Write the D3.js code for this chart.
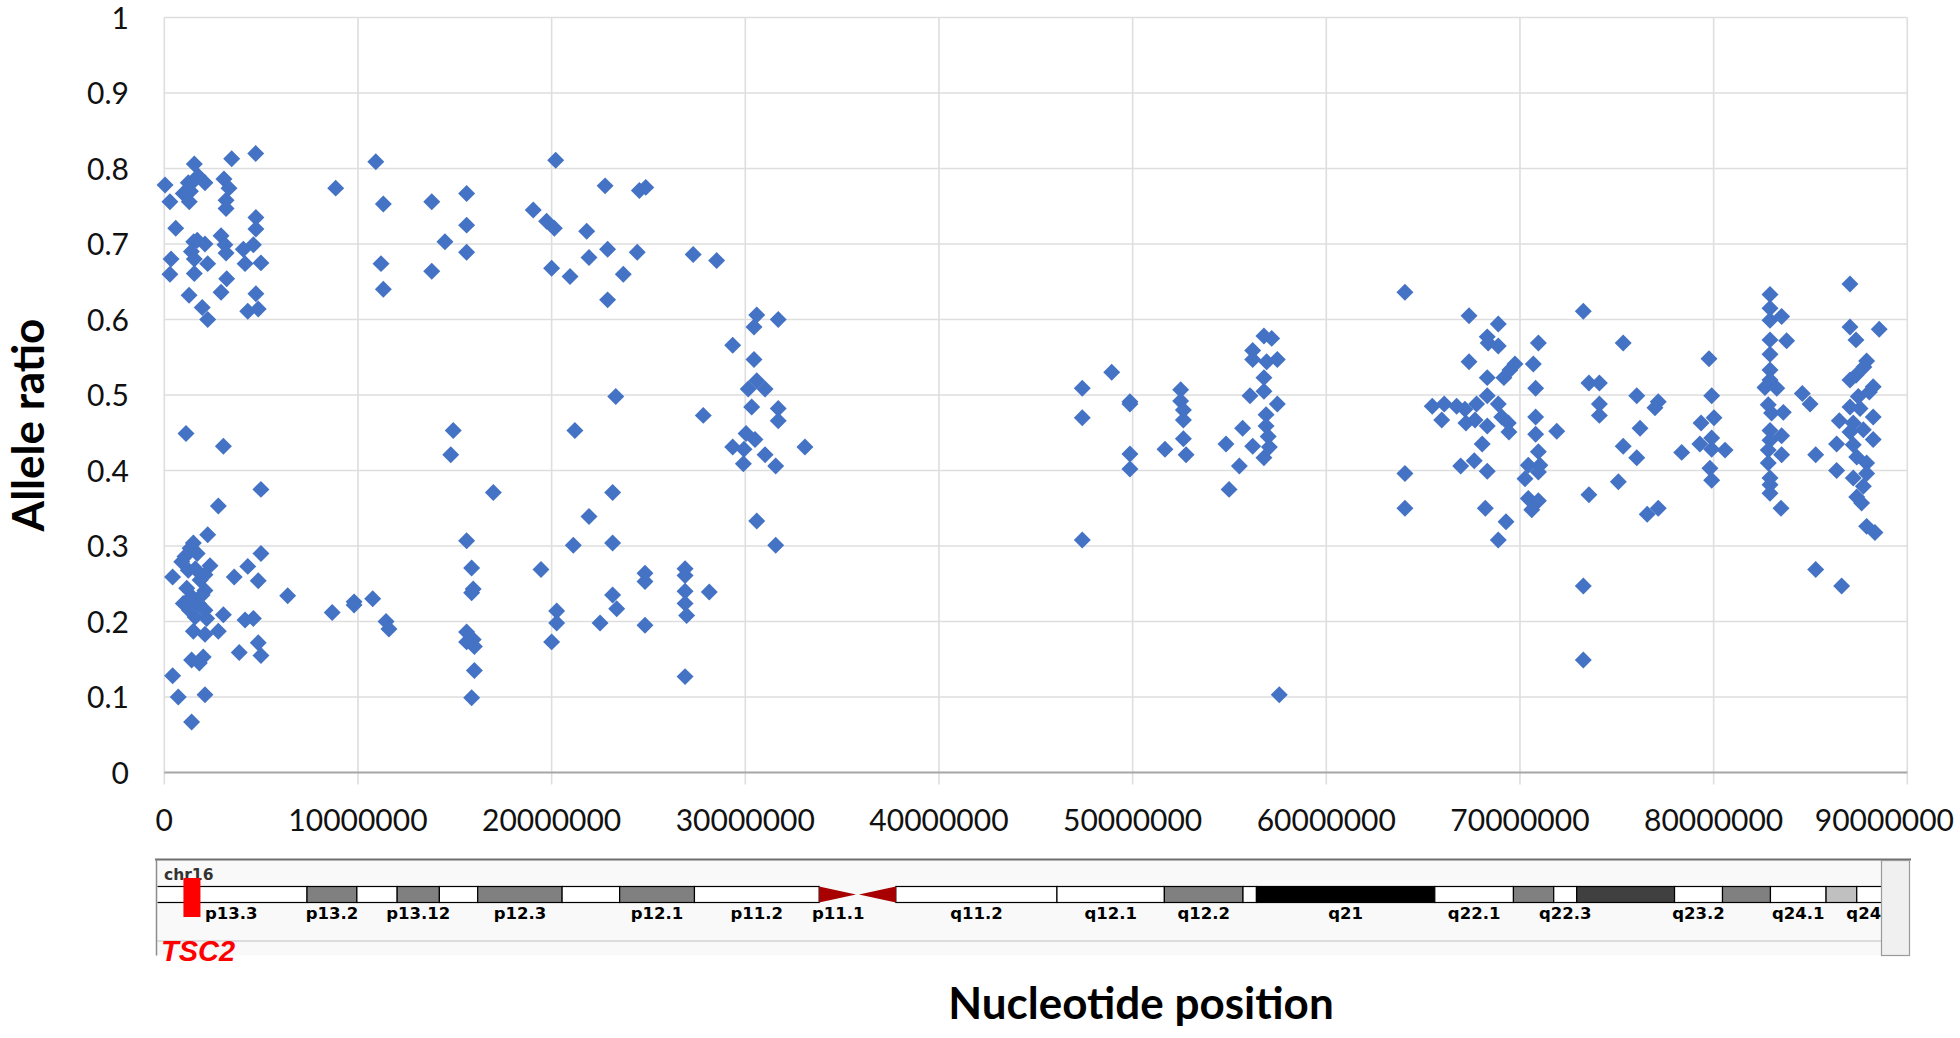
<!DOCTYPE html>
<html>
<head>
<meta charset="utf-8">
<script src="https://cdn.jsdelivr.net/npm/d3@7"></script>
<style>
  html, body { margin: 0; padding: 0; background: #fff; }
  svg { display: block; }
</style>
</head>
<body>
<svg id="chart" width="1960" height="1038"></svg>
<script>
// Heterozygous SNP positions along chr16 (Mb) and their allele ratios
const positionMb = [
  // 0 - 15 Mb, upper band
  1.55,3.48,4.72,10.92,0.04,1.24,1.50,2.10,3.08,3.34,8.85,0.29,0.98,1.29,3.19,3.19,11.31,13.81,4.73,4.73,
  0.59,1.52,2.10,2.93,3.13,4.60,4.08,3.19,14.49,0.35,0.29,1.55,1.55,2.24,4.17,4.99,3.22,11.19,13.81,1.28,
  2.93,4.73,1.96,2.24,4.31,4.85,11.31,1.75,1.35,1.70,1.40,
  // 0 - 15 Mb, lower band
  1.12,3.05,4.99,2.79,2.24,1.50,1.33,1.07,0.90,1.24,2.36,2.10,4.99,4.31,0.43,3.61,4.85,1.16,2.10,6.37,
  0.98,1.41,1.76,2.10,1.59,2.19,3.05,4.17,4.60,8.67,9.80,9.80,10.76,11.45,11.60,1.50,2.10,2.79,4.85,3.87,
  4.99,1.41,2.01,1.81,0.43,0.72,2.10,1.41,1.60,1.85,1.30,1.95,1.70,
  // 14 - 34 Mb
  20.21,15.61,22.76,24.53,24.86,19.05,19.74,20.14,15.61,15.61,21.81,22.89,24.42,21.93,20.00,20.95,23.70,27.31,28.52,22.89,
  30.59,30.45,31.70,29.35,30.45,30.59,30.15,31.02,30.33,31.70,31.70,27.83,23.31,14.92,14.79,21.20,30.04,30.50,29.35,29.93,
  29.90,31.02,31.57,33.08,16.99,23.15,21.93,21.12,23.15,30.59,31.57,15.61,15.87,15.95,15.87,19.45,20.26,20.26,20.00,15.61,
  15.95,15.61,16.01,16.01,15.87,22.50,23.15,23.36,24.82,24.82,24.82,26.89,26.89,26.89,26.89,26.97,28.14,26.89,
  // 47 - 58 Mb
  47.40,47.40,47.40,48.92,49.86,49.86,49.86,49.86,51.67,52.48,52.48,52.62,52.62,52.62,52.76,54.82,55.51,54.98,55.68,56.06,
  56.20,56.20,56.78,57.18,56.92,57.47,56.78,56.78,57.47,56.89,56.89,57.00,56.20,57.06,56.78,57.57,
  // 64 - 77 Mb
  64.06,64.06,64.06,67.37,68.88,68.31,68.36,68.88,67.37,68.31,69.17,69.48,69.74,70.69,70.95,70.81,73.27,75.33,65.47,66.09,
  66.73,67.16,67.76,68.31,68.88,65.96,67.21,67.68,68.31,69.06,69.40,69.43,70.81,70.81,71.90,68.05,67.64,66.94,68.31,70.95,
  70.43,71.03,70.95,70.26,70.43,70.95,70.61,68.21,69.28,68.88,73.27,73.27,73.56,74.10,74.10,74.10,76.03,76.20,75.33,76.03,
  75.08,73.56,
  // 76 - 89 Mb
  77.14,76.97,76.57,77.14,79.76,79.90,79.35,80.02,79.90,79.29,79.90,80.59,78.35,79.81,79.90,82.91,82.91,82.91,83.51,82.91,
  83.77,82.91,82.91,82.91,82.65,83.26,82.82,82.99,83.60,82.91,83.51,82.91,82.82,83.51,82.82,82.91,82.91,82.91,83.48,84.58,
  84.98,85.27,85.27,87.04,87.04,87.35,88.55,87.90,87.76,87.35,87.04,88.24,88.04,87.47,87.04,87.56,88.24,86.49,87.21,87.73,
  88.24,87.04,86.35,87.21,87.39,87.90,86.35,87.21,87.90,87.73,87.39,87.64,87.90,88.33,86.61
];

const alleleRatio = [
  // 0 - 15 Mb, upper band
  0.806,0.813,0.820,0.809,0.778,0.781,0.783,0.781,0.786,0.774,0.774,0.756,0.767,0.756,0.758,0.747,0.753,0.756,0.735,0.720,
  0.721,0.703,0.700,0.711,0.699,0.699,0.693,0.688,0.703,0.680,0.660,0.680,0.661,0.674,0.674,0.675,0.654,0.674,0.664,0.632,
  0.636,0.634,0.616,0.600,0.611,0.614,0.640,0.790,0.770,0.705,0.690,
  // 0 - 15 Mb, lower band
  0.449,0.432,0.375,0.353,0.315,0.304,0.297,0.286,0.279,0.268,0.274,0.262,0.290,0.273,0.259,0.259,0.254,0.244,0.241,0.234,
  0.224,0.233,0.224,0.215,0.206,0.204,0.209,0.202,0.204,0.212,0.226,0.222,0.230,0.200,0.190,0.187,0.183,0.187,0.172,0.159,
  0.155,0.149,0.153,0.145,0.128,0.100,0.103,0.067,0.270,0.255,0.215,0.235,0.290,
  // 14 - 34 Mb
  0.811,0.767,0.777,0.771,0.775,0.745,0.730,0.721,0.725,0.689,0.717,0.693,0.689,0.682,0.668,0.657,0.660,0.686,0.678,0.626,
  0.606,0.590,0.600,0.566,0.547,0.519,0.508,0.508,0.484,0.482,0.466,0.473,0.498,0.453,0.421,0.453,0.449,0.441,0.431,0.428,
  0.409,0.421,0.406,0.431,0.371,0.371,0.339,0.301,0.304,0.333,0.301,0.307,0.271,0.243,0.238,0.269,0.214,0.198,0.173,0.186,
  0.176,0.173,0.167,0.135,0.099,0.198,0.235,0.217,0.264,0.253,0.195,0.270,0.261,0.240,0.224,0.208,0.239,0.127,
  // 47 - 58 Mb
  0.509,0.470,0.308,0.530,0.491,0.488,0.422,0.402,0.428,0.507,0.492,0.480,0.467,0.442,0.421,0.435,0.406,0.375,0.456,0.499,
  0.559,0.547,0.578,0.575,0.544,0.547,0.523,0.505,0.488,0.474,0.459,0.445,0.432,0.431,0.417,0.103,
  // 64 - 77 Mb
  0.636,0.396,0.350,0.605,0.594,0.577,0.569,0.565,0.544,0.523,0.523,0.533,0.541,0.541,0.569,0.509,0.611,0.569,0.485,0.488,
  0.485,0.481,0.488,0.499,0.488,0.467,0.463,0.467,0.459,0.471,0.463,0.451,0.471,0.448,0.452,0.435,0.413,0.406,0.399,0.425,
  0.407,0.407,0.398,0.389,0.363,0.360,0.348,0.350,0.332,0.308,0.247,0.149,0.516,0.516,0.488,0.473,0.499,0.456,0.432,0.417,
  0.385,0.368,
  // 76 - 89 Mb
  0.491,0.483,0.342,0.350,0.548,0.499,0.463,0.470,0.443,0.435,0.428,0.427,0.424,0.403,0.387,0.633,0.615,0.599,0.604,0.573,
  0.572,0.554,0.533,0.520,0.510,0.509,0.487,0.476,0.477,0.453,0.446,0.440,0.427,0.421,0.410,0.390,0.381,0.370,0.350,0.502,
  0.488,0.421,0.269,0.647,0.590,0.573,0.587,0.545,0.537,0.526,0.520,0.511,0.504,0.498,0.484,0.482,0.471,0.466,0.463,0.454,
  0.441,0.451,0.435,0.434,0.418,0.410,0.400,0.390,0.396,0.379,0.365,0.357,0.326,0.318,0.247
];

const yTicks = [0, 0.1, 0.2, 0.3, 0.4, 0.5, 0.6, 0.7, 0.8, 0.9, 1];
const xTicks = [0, 10000000, 20000000, 30000000, 40000000, 50000000, 60000000, 70000000, 80000000, 90000000];

// chr16 cytobands (hg19), Mb
const bandNames  = ["p13.3","p13.2","p13.13","p13.12","p13.11","p12.3","p12.2","p12.1","p11.2","p11.1","q11.1","q11.2","q12.1","q12.2","q13","q21","q22.1","q22.2","q22.3","q23.1","q23.2","q23.3","q24.1","q24.2","q24.3"];
const bandStart  = [0,7.9,10.5,12.6,14.8,16.8,21.2,24.2,28.1,34.6,36.6,38.6,47.0,52.6,56.7,57.4,66.7,70.8,72.9,74.1,79.2,81.7,84.2,87.1,88.7];
const bandEnd    = [7.9,10.5,12.6,14.8,16.8,21.2,24.2,28.1,34.6,36.6,38.6,47.0,52.6,56.7,57.4,66.7,70.8,72.9,74.1,79.2,81.7,84.2,87.1,88.7,90.354753];
const bandStain  = ["gneg","gpos50","gneg","gpos50","gneg","gpos50","gneg","gpos50","gneg","acen","acen","gvar","gneg","gpos50","gneg","gpos100","gneg","gpos50","gneg","gpos75","gneg","gpos50","gneg","gpos25","gneg"];
const labelledBands = ["p13.3","p13.2","p13.12","p12.3","p12.1","p11.2","p11.1","q11.2","q12.1","q12.2","q21","q22.1","q22.3","q23.2","q24.1","q24.3"];
const geneName = "TSC2";
const genePosMb = 1.9;
const chromName = "chr16";

const stainColor = {
  gneg: "#ffffff", gvar: "#ffffff", gpos25: "#c0c0c0", gpos50: "#808080",
  gpos75: "#404040", gpos100: "#000000", acen: "#a80000"
};

const svg = d3.select("#chart");
svg.append("rect").attr("width", 1960).attr("height", 1038).attr("fill", "#fff");

const plot = { left: 164.3, right: 1907.3, top: 17.5, bottom: 772.5 };
const x = d3.scaleLinear().domain([0, 90000000]).range([plot.left, plot.right]);
const y = d3.scaleLinear().domain([0, 1]).range([plot.bottom, plot.top]);

const tickFont = "Lato, 'Open Sans', sans-serif";

// gridlines
const grid = svg.append("g");
grid.selectAll("line.h").data(yTicks.filter(v => v > 0)).join("line")
  .attr("x1", x(0)).attr("x2", x(90000000))
  .attr("y1", d => y(d)).attr("y2", d => y(d))
  .attr("stroke", "#dedede").attr("stroke-width", 1.6);
grid.selectAll("line.v").data(xTicks).join("line")
  .attr("x1", d => x(d)).attr("x2", d => x(d))
  .attr("y1", y(1)).attr("y2", y(0) + 12)
  .attr("stroke", "#dedede").attr("stroke-width", 1.6);

// horizontal axis line
svg.append("line")
  .attr("x1", x(0)).attr("x2", x(90000000))
  .attr("y1", y(0)).attr("y2", y(0))
  .attr("stroke", "#a6a6a6").attr("stroke-width", 1.8);

// tick labels
svg.append("g").selectAll("text").data(yTicks).join("text")
  .attr("x", 129).attr("y", d => y(d) + 11)
  .attr("text-anchor", "end")
  .attr("font-family", tickFont).attr("font-size", 30).attr("fill", "#111")
  .text(d3.format("~g"));

// x labels are centred on their gridline, but kept inside the page edge
const xLabelMaxRight = 1954;
svg.append("g").selectAll("text").data(xTicks).join("text")
  .attr("y", 830.5)
  .attr("text-anchor", "end")
  .attr("font-family", tickFont).attr("font-size", 30).attr("fill", "#111")
  .text(d3.format("d"))
  .attr("x", function (d) {
    const w = this.getComputedTextLength();
    return Math.min(x(d) + w / 2, xLabelMaxRight);
  });

// axis titles
svg.append("text")
  .attr("transform", "translate(44,425) rotate(-90)")
  .attr("text-anchor", "middle")
  .attr("font-family", tickFont).attr("font-weight", "bold").attr("font-size", 44)
  .attr("fill", "#000")
  .text("Allele ratio");

svg.append("text")
  .attr("x", 1141).attr("y", 1019)
  .attr("text-anchor", "middle")
  .attr("font-family", tickFont).attr("font-weight", "bold").attr("font-size", 44)
  .attr("fill", "#000")
  .text("Nucleotide position");

// SNP markers
const points = positionMb.map((m, i) => ({ pos: m * 1e6, ratio: alleleRatio[i] }));
const diamond = d3.symbol(d3.symbolSquare, 144)();
svg.append("g").selectAll("path").data(points).join("path")
  .attr("d", diamond)
  .attr("transform", d => `translate(${x(d.pos)},${y(d.ratio)}) rotate(45)`)
  .attr("fill", "#4472C4");

// ---- chromosome ideogram ----
const ideo = svg.append("g");
const panel = { left: 156.5, right: 1881.5, top: 859.5, bottom: 955.5 };
const xg = d3.scaleLinear().domain([0, 90.354753]).range([155.5, 155.5 + 90.354753 * 19.18]);

ideo.append("rect")
  .attr("x", panel.left).attr("y", panel.top)
  .attr("width", panel.right - panel.left).attr("height", panel.bottom - panel.top)
  .attr("fill", "#f9f9f9");

svg.append("defs").append("clipPath").attr("id", "panelClip")
  .append("rect")
  .attr("x", panel.left + 1).attr("y", panel.top)
  .attr("width", panel.right - panel.left - 1).attr("height", panel.bottom - panel.top + 20);

const inner = ideo.append("g").attr("clip-path", "url(#panelClip)");

// separator line under the band labels
inner.append("line")
  .attr("x1", panel.left).attr("x2", panel.right)
  .attr("y1", 941).attr("y2", 941)
  .attr("stroke", "#d2d2d2").attr("stroke-width", 1.5);

inner.append("text")
  .attr("x", 164).attr("y", 880)
  .attr("font-family", "'DejaVu Sans', sans-serif").attr("font-weight", "bold")
  .attr("font-size", 15.5).attr("fill", "#333")
  .text(chromName);

const bands = bandNames.map((n, i) => ({ name: n, s: bandStart[i], e: bandEnd[i], stain: bandStain[i] }));
const barTop = 886.5, barH = 16;

inner.selectAll("rect.band").data(bands.filter(b => b.stain !== "acen")).join("rect")
  .attr("x", d => xg(d.s)).attr("y", barTop)
  .attr("width", d => xg(d.e) - xg(d.s)).attr("height", barH)
  .attr("fill", d => stainColor[d.stain])
  .attr("stroke", "#000").attr("stroke-width", 1.2);

inner.selectAll("path.cen").data(bands.filter(b => b.stain === "acen")).join("path")
  .attr("d", d => {
    const a = xg(d.s), b = xg(d.e), m = barTop + barH / 2;
    return d.name.startsWith("p")
      ? `M${a},${barTop}L${b - 1.5},${m}L${a},${barTop + barH}Z`
      : `M${b},${barTop}L${a + 1.5},${m}L${b},${barTop + barH}Z`;
  })
  .attr("fill", stainColor.acen);

inner.selectAll("text.bl").data(bands.filter(b => labelledBands.includes(b.name))).join("text")
  .attr("x", d => xg((d.s + d.e) / 2)).attr("y", 918.5)
  .attr("text-anchor", "middle")
  .attr("font-family", "'DejaVu Sans', sans-serif").attr("font-weight", "bold")
  .attr("font-size", 16.5).attr("fill", "#000")
  .text(d => d.name);

// gene marker
inner.append("rect")
  .attr("x", xg(genePosMb) - 8.5).attr("y", 878)
  .attr("width", 17).attr("height", 39)
  .attr("fill", "#ff0000");

// frame
ideo.append("line")
  .attr("x1", 155).attr("x2", 1911).attr("y1", panel.top).attr("y2", panel.top)
  .attr("stroke", "#6f6f6f").attr("stroke-width", 2);
ideo.append("line")
  .attr("x1", panel.left).attr("x2", panel.left).attr("y1", panel.top).attr("y2", panel.bottom)
  .attr("stroke", "#8c8c8c").attr("stroke-width", 1.5);
ideo.append("rect")
  .attr("x", panel.right).attr("y", panel.top + 1)
  .attr("width", 28).attr("height", panel.bottom - panel.top - 1)
  .attr("fill", "#f0f0f0").attr("stroke", "#9a9a9a").attr("stroke-width", 1.2);

svg.append("text")
  .attr("x", 161).attr("y", 961)
  .attr("font-family", "'Liberation Sans', Arial, sans-serif")
  .attr("font-weight", "bold").attr("font-style", "italic")
  .attr("font-size", 29).attr("fill", "#ff0000")
  .text(geneName);
</script>
</body>
</html>
